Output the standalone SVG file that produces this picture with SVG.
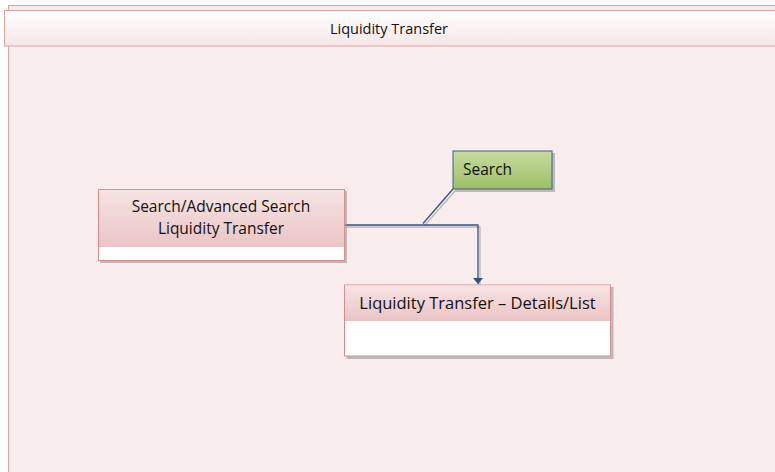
<svg xmlns="http://www.w3.org/2000/svg" width="775" height="472" viewBox="0 0 775 472">
<defs>
<linearGradient id="hdr" x1="0" y1="0" x2="0" y2="1"><stop offset="0" stop-color="#FFFFFF"/><stop offset="1" stop-color="#F5E6E6"/></linearGradient>
<linearGradient id="pink" x1="0" y1="0" x2="0" y2="1"><stop offset="0" stop-color="#F6E4E4"/><stop offset="1" stop-color="#EBC4C4"/></linearGradient>
<linearGradient id="green" x1="0" y1="0" x2="0" y2="1"><stop offset="0" stop-color="#C6DB9E"/><stop offset="1" stop-color="#9CC066"/></linearGradient>
<marker id="arr" viewBox="0 0 6 10" refX="6" refY="5" markerWidth="6" markerHeight="10" orient="auto" markerUnits="userSpaceOnUse"><path d="M0,0 L6,5 L0,10 Z" fill="#2F5189"/></marker>
</defs>
<style>
.t{font-family:"Open Sans","Liberation Sans",sans-serif;fill:#111;}
.box{stroke:#D98C8C;stroke-width:1;}
.shadow{fill:#9A9A9A;opacity:0.6;}
.conn{fill:none;stroke:#2F5189;stroke-width:1.3;}
.cshadow{fill:none;stroke:#B8B8B8;stroke-width:1.3;}
</style>
<rect width="775" height="472" fill="#FFFFFF"/>
<g id="panel">
<rect x="8.5" y="5.5" width="780" height="480" fill="#F8ECEC" stroke="#E5A0A0" stroke-width="1"/>
</g>
<g id="header">
<rect x="4.5" y="10.5" width="790" height="35.5" fill="url(#hdr)" stroke="#E5A0A0" stroke-width="1"/>
<text class="t" x="389" y="34" font-size="14.5" text-anchor="middle">Liquidity Transfer</text>
</g>
<g id="connectors">
<path class="cshadow" d="M346,227 L480,227 L480,286"/>
<path class="cshadow" d="M455,191 L425,225"/>
<path class="conn" d="M344,225 L478,225 L478,284" marker-end="url(#arr)"/>
<path class="conn" d="M453,189 L423,223.5"/>
</g>
<g id="node-search-advanced">
<rect class="shadow" x="100" y="191" width="247" height="72"/>
<rect x="98.5" y="189.5" width="246" height="71" fill="#FFFFFF" class="box"/>
<rect x="99" y="190" width="245" height="57" fill="url(#pink)"/>
<text class="t" x="221" y="212" font-size="15.5" text-anchor="middle">Search/Advanced Search</text>
<text class="t" x="221" y="234" font-size="15.5" text-anchor="middle">Liquidity Transfer</text>
</g>
<g id="node-search">
<rect class="shadow" x="455" y="153" width="100" height="39"/>
<rect x="453" y="151" width="99" height="38" fill="url(#green)" stroke="#3E5C82" stroke-width="1"/>
<text class="t" x="463" y="175" font-size="15.5">Search</text>
</g>
<g id="node-details">
<rect class="shadow" x="346.5" y="287" width="267" height="72"/>
<rect x="344.5" y="285" width="266" height="71" fill="#FFFFFF" class="box"/>
<rect x="345" y="285.5" width="265" height="35.5" fill="url(#pink)"/>
<text class="t" x="477.5" y="309" font-size="16.5" text-anchor="middle">Liquidity Transfer – Details/List</text>
</g>
</svg>
